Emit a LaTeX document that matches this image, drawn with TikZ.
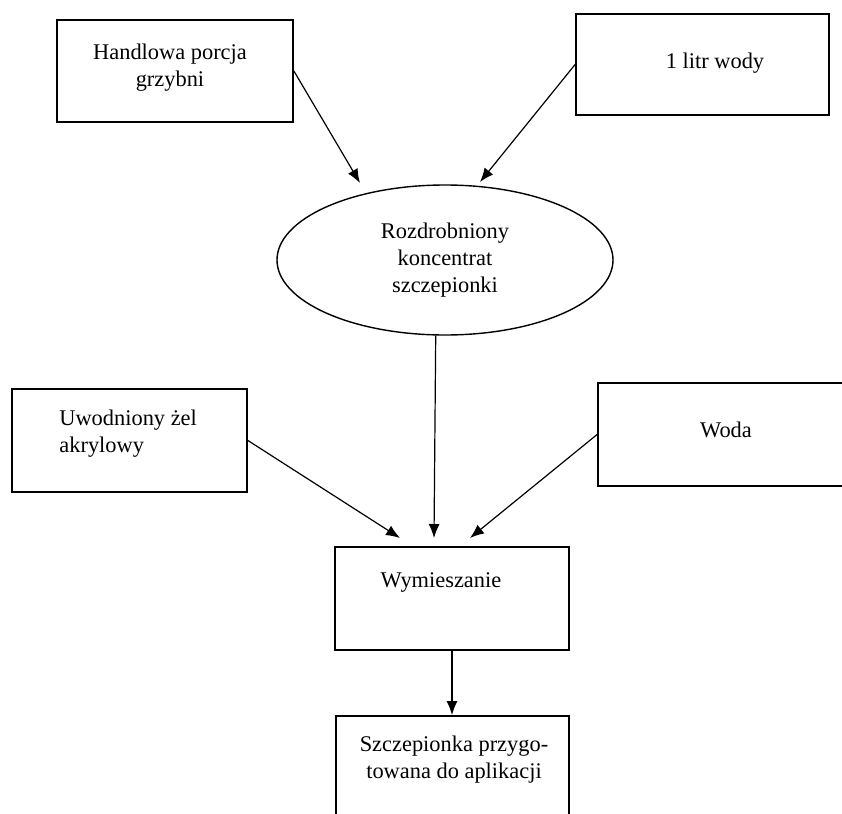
\documentclass[tikz,border=0pt]{standalone}
\usepackage{fontspec}
\setmainfont{Liberation Serif}
\usetikzlibrary{shapes.geometric,arrows.meta}
\tikzset{
  ramka/.style={draw,line width=0.9pt,inner sep=0pt},
  napis/.style={inner sep=0pt,font=\fontsize{11.2}{13.5}\selectfont,align=center},
}
\begin{document}
\begin{tikzpicture}[x=0.5pt,y=-0.5pt,>={Latex[length=7pt,width=5.5pt]}]
        \useasboundingbox(0,0)rectangle(842,814);
        \clip(0,0)rectangle(842,814);
        % ramki
        \node[ramka,minimum width=118pt,minimum height=51pt](handlowa)at(175,71){};
        \node[ramka,minimum width=126.5pt,minimum height=50.5pt](litr)at(702.5,64.5){};
        \node[ellipse,draw,line width=0.7pt,napis,minimum width=168pt,minimum height=75pt](rozdrobniony)at(445,260){Rozdrobniony\\koncentrat\\szczepionki};
        \node[ramka,minimum width=117.5pt,minimum height=51.5pt](zel)at(129.5,440.5){};
        \node[ramka,minimum width=141pt,minimum height=51.5pt](woda)at(739,434.5){};
        \node[ramka,minimum width=117pt,minimum height=51.5pt](wymieszanie)at(452,598.5){};
        \node[ramka,minimum width=116.5pt,minimum height=65pt](szczepionka)at(452.5,781){};
        % napisy
        \node[napis](opis1)at(170,67.5){Handlowa porcja\\grzybni};
        \node[napis](opis2)at(715,63){1 litr wody};
        \node[napis,align=left,anchor=west](opis3)at(59,433.5){Uwodniony żel\\akrylowy};
        \node[napis](opis4)at(726,430){Woda};
        \node[napis](opis5)at(441,582){Wymieszanie};
        \node[napis](opis6)at(454,759.5){Szczepionka przygo-\\towana do aplikacji};
        % strzalki
        \coordinate(k1)at(360,183);
        \coordinate(k2)at(480,182);
        \coordinate(k3)at(434,538);
        \coordinate(k4)at(400,538);
        \coordinate(k5)at(470,538);
        \draw[->,line width=0.6pt](handlowa.east)--(k1);
        \draw[->,line width=0.6pt](litr.west)--(k2);
        \draw[->,line width=0.6pt](rozdrobniony.263)--(k3);
        \draw[->,line width=0.6pt](zel.east)--(k4);
        \draw[->,line width=0.6pt](woda.west)--(k5);
        \draw[->,line width=0.6pt](wymieszanie.south)--(wymieszanie.south|-szczepionka.north);
    \end{tikzpicture}
\end{document}
